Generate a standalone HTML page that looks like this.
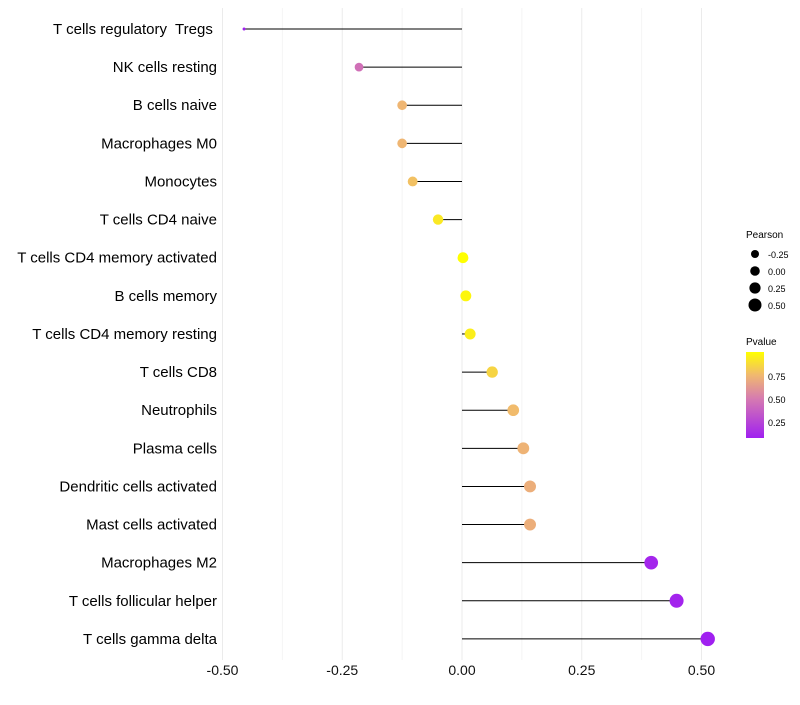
<!DOCTYPE html>
<html><head><meta charset="utf-8"><style>
body{margin:0;background:#fff;font-family:"Liberation Sans",Arial,sans-serif}
</style></head><body>
<svg id="chart" width="800" height="700" xmlns="http://www.w3.org/2000/svg" font-family="Liberation Sans, Arial, sans-serif">
<defs><linearGradient id="pg" x1="0" y1="1" x2="0" y2="0">
<stop offset="0" stop-color="#A020F0"/><stop offset="0.46" stop-color="#D67BB0"/><stop offset="0.73" stop-color="#F0B870"/><stop offset="1" stop-color="#FFFF00"/></linearGradient></defs>
<g id="grid"></g><g id="marks"></g><g id="labels"></g>
<g font-size="10">
<text x="746" y="238" fill="#000">Pearson</text>
<circle cx="755" cy="254" r="4" fill="#000"/><text x="768" y="258" font-size="9">-0.25</text>
<circle cx="755" cy="271" r="4.8" fill="#000"/><text x="768" y="275" font-size="9">0.00</text>
<circle cx="755" cy="288" r="5.6" fill="#000"/><text x="768" y="292" font-size="9">0.25</text>
<circle cx="755" cy="305" r="6.5" fill="#000"/><text x="768" y="309" font-size="9">0.50</text>
<text x="746" y="345" fill="#000">Pvalue</text>
<rect x="746" y="352" width="18" height="86" fill="url(#pg)"/>
<text x="768" y="380" font-size="9">0.75</text>
<text x="768" y="403" font-size="9">0.50</text>
<text x="768" y="426" font-size="9">0.25</text>
</g>
</svg>
<script>
const categories=["T cells regulatory  Tregs ","NK cells resting","B cells naive","Macrophages M0","Monocytes","T cells CD4 naive","T cells CD4 memory activated","B cells memory","T cells CD4 memory resting","T cells CD8","Neutrophils","Plasma cells","Dendritic cells activated","Mast cells activated","Macrophages M2","T cells follicular helper","T cells gamma delta"];
const pearson=[-0.455,-0.215,-0.125,-0.125,-0.103,-0.05,0.002,0.008,0.017,0.063,0.107,0.128,0.142,0.142,0.395,0.448,0.513];
const pvalue=[0.05,0.45,0.74,0.74,0.78,0.92,1.0,0.97,0.94,0.85,0.76,0.73,0.71,0.71,0.1,0.09,0.06];
const xTicks=[-0.5,-0.25,0,0.25,0.5];
const xTickLabels=["-0.50","-0.25","0.00","0.25","0.50"];
const NS="http://www.w3.org/2000/svg";
const x=v=>462+v*479;
const y=i=>29+i*38.12;
const rad=v=>1.5+5.7*Math.sqrt(Math.max(0,(v+0.455)/0.968));
function lerp(a,b,t){return a.map((c,k)=>Math.round(c+(b[k]-c)*t));}
const stops=[[0.07,[160,32,240]],[0.5,[214,123,176]],[0.75,[240,184,112]],[1.0,[255,255,0]]];
function col(p){p=Math.max(0.07,Math.min(1,p));for(let k=0;k<stops.length-1;k++){if(p<=stops[k+1][0]){const t=(p-stops[k][0])/(stops[k+1][0]-stops[k][0]);return "rgb("+lerp(stops[k][1],stops[k+1][1],t).join(",")+")";}}return "rgb(255,255,0)";}
function mk(t,a,p){const e=document.createElementNS(NS,t);for(const k in a)e.setAttribute(k,a[k]);p.appendChild(e);return e;}
const grid=document.getElementById('grid'),marks=document.getElementById('marks'),labels=document.getElementById('labels');
for(let k=0;k<xTicks.length;k++){
 const g=mk('line',{x1:x(xTicks[k]),x2:x(xTicks[k]),y1:8,y2:660,stroke:'#ebebeb','stroke-width':1},grid);
 
 
 if(k<xTicks.length-1){const m=(xTicks[k]+xTicks[k+1])/2;
  const mg=mk('line',{x1:x(m),x2:x(m),y1:8,y2:660,stroke:'#f4f4f4','stroke-width':1},grid);
  
  }
 const t=mk('text',{x:x(xTicks[k]),y:675,'text-anchor':'middle','font-size':14,fill:'#111'},labels);
 t.textContent=xTickLabels[k];
 
 
}
categories.forEach((c,i)=>{
 const l=mk('line',{x1:x(0),x2:x(pearson[i]),y1:y(i),y2:y(i),stroke:'#000','stroke-width':1},marks);
 
 
 const d=mk('circle',{cx:x(pearson[i]),cy:y(i),r:rad(pearson[i]),fill:col(pvalue[i])},marks);
 
 
 const t=mk('text',{x:217,y:y(i)+5,'text-anchor':'end','font-size':15,fill:'#000','xml:space':'preserve'},labels);
 t.setAttribute('style','white-space:pre');
 t.textContent=c;
 
 
});
</script>
</body></html>
